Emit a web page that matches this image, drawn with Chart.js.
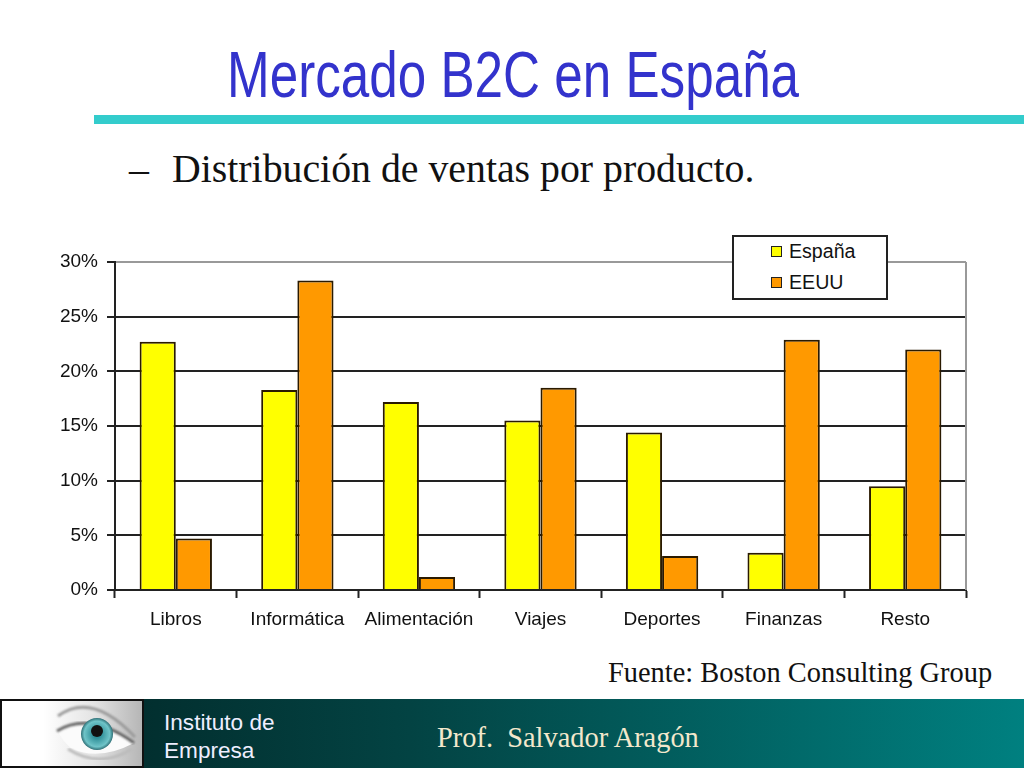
<!DOCTYPE html>
<html lang="es">
<head>
<meta charset="utf-8">
<title>Mercado B2C en España</title>
<script src="https://cdn.jsdelivr.net/npm/chart.js@4"></script>
<style>
html, body { margin: 0; padding: 0; background: #fff; }
#slide { position: relative; width: 1024px; height: 768px; overflow: hidden; background: #fff; }
#slide div { position: absolute; white-space: pre; }
#title { left: 227px; top: 38px; font: 64px/74px "Liberation Sans", sans-serif; color: #3333cc; transform: scaleX(0.8); transform-origin: left top; }
#rule { left: 94px; top: 115px; width: 930px; height: 9px; background: #33cccc; }
#dash, #subtitle { top: 146px; font: 39.8px/46px "Liberation Serif", serif; color: #111; }
#dash { left: 129px; }
#subtitle { left: 172px; }
#source { left: 608px; top: 657px; font: 28.4px/32px "Liberation Serif", serif; color: #111; }
#footer { left: 0; top: 699px; width: 1024px; height: 69px; background: linear-gradient(90deg, #022f2f 14%, #034343 40%, #008080 100%); }
#eye { left: 0; top: 699px; width: 144px; height: 69px; }
#eye svg { position: absolute; left: 0; top: 0; }
#inst { left: 164px; top: 709px; font: 22.6px/28px "Liberation Sans", sans-serif; color: #eef; }
#prof { left: 437px; top: 722px; font: 28.4px/32px "Liberation Serif", serif; color: #f3e8cc; }
canvas { position: absolute; left: 0; top: 240px; }
#legend { left: 732px; top: 235px; width: 152px; height: 61px; border: 2px solid #222; background: #fff; z-index: 2; }
.key { left: 37px; width: 9px; height: 9px; border: 1.5px solid #222; }
.lab { left: 55px; font: 19.6px/24px "Liberation Sans", sans-serif; color: #111; }
</style>
</head>
<body>
<div id="slide">
  <div id="title">Mercado B2C en España</div>
  <div id="rule"></div>
  <div id="dash">–</div>
  <div id="subtitle">Distribución de ventas por producto.</div>
  <canvas id="chart" width="1024" height="400"></canvas>
  <div id="legend"></div>
  <div id="source">Fuente: Boston Consulting Group</div>
  <div id="footer"></div>
  <div id="eye">
    <svg width="144" height="69" viewBox="0 0 144 69">
      <defs>
        <linearGradient id="skin" x1="0" x2="1" y1="0" y2="0">
          <stop offset="0.3" stop-color="#ffffff"/>
          <stop offset="0.65" stop-color="#e4e4e4"/>
          <stop offset="1" stop-color="#b4b4b4"/>
        </linearGradient>
        <radialGradient id="iris">
          <stop offset="0.25" stop-color="#2f8f98"/>
          <stop offset="0.8" stop-color="#6fc4c8"/>
          <stop offset="1" stop-color="#2e6f76"/>
        </radialGradient>
        <filter id="soft"><feGaussianBlur stdDeviation="1.2"/></filter>
      </defs>
      <rect width="144" height="69" fill="url(#skin)"/>
      <path d="M58 32 Q88 14 134 44 Q100 62 72 50 Q62 42 58 32Z" fill="#fbfbfb"/>
      <path d="M58 17 Q92 -8 135 38" fill="none" stroke="#9a9a9a" stroke-width="3" filter="url(#soft)"/>
      <path d="M57 32 Q90 12 134 44" fill="none" stroke="#666" stroke-width="3" filter="url(#soft)"/>
      <path d="M68 50 Q100 70 132 50" fill="none" stroke="#bbb" stroke-width="3" filter="url(#soft)"/>
      <circle cx="97" cy="35" r="16" fill="url(#iris)"/>
      <circle cx="97" cy="32" r="6" fill="#111"/>
      <rect x="1" y="1" width="142" height="67" fill="none" stroke="#111" stroke-width="2"/>
    </svg>
  </div>
  <div id="inst">Instituto de
Empresa</div>
  <div id="prof">Prof.  Salvador Aragón</div>
</div>
<script>
const categories = ['Libros', 'Informática', 'Alimentación', 'Viajes', 'Deportes', 'Finanzas', 'Resto'];
const espana = [22.7, 18.3, 17.2, 15.5, 14.4, 3.4, 9.5];
const eeuu = [4.7, 28.3, 1.2, 18.5, 3.1, 22.9, 22.0];
const seriesNames = ['España', 'EEUU'];
const seriesColors = ['#ffff00', '#ff9900'];
const yTicks = [0, 5, 10, 15, 20, 25, 30];

const darkLine = '#222';
const greyLine = '#999';
const labelFont = { family: 'Liberation Sans', size: 19 };

// the top and right edges of the plot are grey, the rest is dark
const plotRightEdge = {
    id: 'plotRightEdge',
    beforeDatasetsDraw(chart) {
        const { ctx, chartArea } = chart;
        ctx.save();
        ctx.strokeStyle = greyLine;
        ctx.lineWidth = 2;
        ctx.beginPath();
        ctx.moveTo(chartArea.right, chartArea.top);
        ctx.lineTo(chartArea.right, chartArea.bottom);
        ctx.stroke();
        ctx.restore();
    }
};

new Chart(document.getElementById('chart').getContext('2d'), {
    type: 'bar',
    data: {
        labels: categories,
        datasets: [
            { label: seriesNames[0], data: espana, backgroundColor: seriesColors[0] },
            { label: seriesNames[1], data: eeuu, backgroundColor: seriesColors[1] }
        ]
    },
    plugins: [plotRightEdge],
    options: {
        responsive: false,
        animation: false,
        devicePixelRatio: 1,
        layout: { padding: { top: 22, right: 58, left: 0, bottom: 0 } },
        datasets: {
            bar: {
                categoryPercentage: 0.595,
                barPercentage: 1,
                borderColor: '#2a1a00',
                borderWidth: 2
            }
        },
        plugins: {
            legend: { display: false },
            title: { display: false },
            tooltip: { enabled: false }
        },
        scales: {
            x: {
                afterFit(scale) { scale.height = 50; },
                grid: {
                    offset: true,
                    drawOnChartArea: false,
                    drawTicks: true,
                    tickLength: 8,
                    tickWidth: 2,
                    tickColor: darkLine
                },
                border: { color: darkLine, width: 2 },
                ticks: { color: '#111', font: labelFont, padding: 10, maxRotation: 0, autoSkip: false }
            },
            y: {
                min: 0,
                max: 30,
                afterFit(scale) { scale.width = 115; },
                afterBuildTicks(scale) { scale.ticks = yTicks.map(v => ({ value: v })); },
                grid: {
                    color: ctx => ctx.tick.value === 30 ? greyLine : darkLine,
                    lineWidth: 2,
                    drawTicks: true,
                    tickLength: 8,
                    tickWidth: 2,
                    tickColor: darkLine
                },
                border: { color: darkLine, width: 2 },
                ticks: { color: '#111', font: labelFont, padding: 9, callback: v => v + '%' }
            }
        }
    }
});

// legend box sits over the top of the plot, same as the original slide
const legend = document.getElementById('legend');
seriesNames.forEach((name, i) => {
    const key = document.createElement('div');
    key.className = 'key';
    key.style.top = (9 + i * 31) + 'px';
    key.style.background = seriesColors[i];
    legend.appendChild(key);
    const lab = document.createElement('div');
    lab.className = 'lab';
    lab.style.top = (2 + i * 31) + 'px';
    lab.textContent = name;
    legend.appendChild(lab);
});
</script>
</body>
</html>
